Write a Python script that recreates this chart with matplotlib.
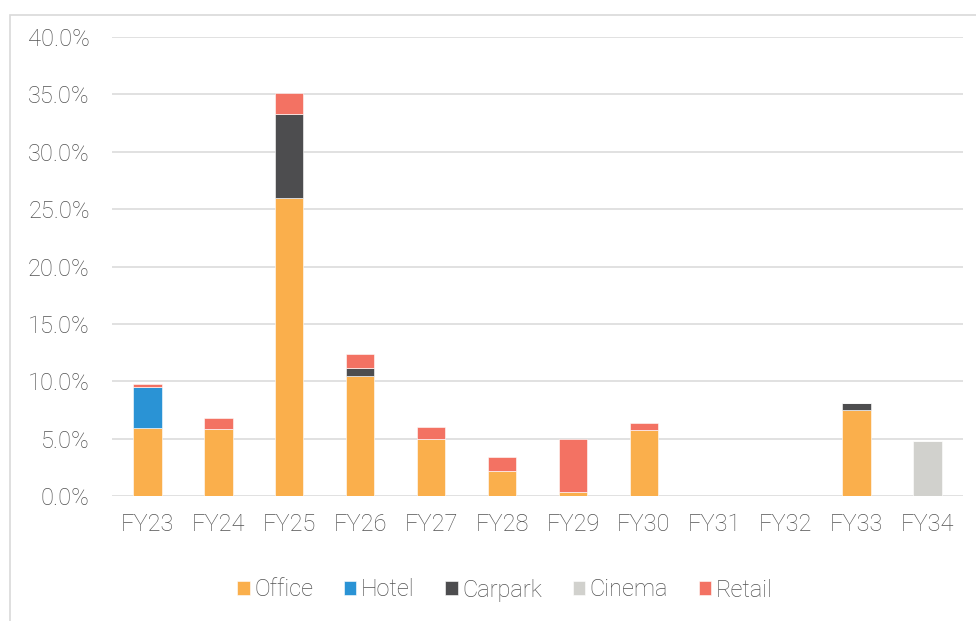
import matplotlib
matplotlib.use("Agg")
import matplotlib.pyplot as plt
from matplotlib.patches import Rectangle
from matplotlib.ticker import FuncFormatter, MultipleLocator
import numpy as np

categories = ["FY23", "FY24", "FY25", "FY26", "FY27", "FY28", "FY29", "FY30", "FY31", "FY32", "FY33", "FY34"]
office  = [5.9, 5.8, 26.0, 10.5, 5.0, 2.2, 0.35, 5.75, 0.0, 0.0, 7.5, 0.0]
hotel   = [3.6, 0.0, 0.0, 0.0, 0.0, 0.0, 0.0, 0.0, 0.0, 0.0, 0.0, 0.0]
carpark = [0.0, 0.0, 7.3, 0.65, 0.0, 0.0, 0.0, 0.0, 0.0, 0.0, 0.6, 0.0]
cinema  = [0.0, 0.0, 0.0, 0.0, 0.0, 0.0, 0.0, 0.0, 0.0, 0.0, 0.0, 4.8]
retail  = [0.3, 1.0, 1.8, 1.2, 1.0, 1.2, 4.65, 0.65, 0.0, 0.0, 0.0, 0.0]

series = [("Office", office, "#FAAF4C"),
          ("Hotel", hotel, "#2A93D5"),
          ("Carpark", carpark, "#4D4D4F"),
          ("Cinema", cinema, "#D1D1CD"),
          ("Retail", retail, "#F37263")]

plt.rcParams['font.family'] = ['Roboto', 'DejaVu Sans']
W, H = 976, 621
fig = plt.figure(figsize=(W/100, H/100), dpi=100)
ax = fig.add_axes([112/W, 1 - 496/H, (963-112)/W, (496-37)/H])

# outer frame
fig.patches.append(Rectangle((10/W, -0.1), 1.2, 1 - 15/H + 0.1, transform=fig.transFigure,
                             fill=False, edgecolor="#D9D9D9", linewidth=1.2))

x = np.arange(len(categories))
bottom = np.zeros(len(categories))
handles = []
for name, vals, col in series:
    v = np.array(vals)
    b = ax.bar(x, v, width=0.4, bottom=bottom, color=col, label=name,
               edgecolor="white", linewidth=0.4, zorder=3)
    bottom += v
    handles.append(b)

TXT = "#525252"
ax.set_xlim(-0.5, len(categories) - 0.5)
ax.set_ylim(0, 40)
ax.yaxis.set_major_locator(MultipleLocator(5))
ax.yaxis.set_major_formatter(FuncFormatter(lambda v, p: f"{v:.1f}%"))
ax.set_xticks(x)
ax.set_xticklabels(categories)
ax.grid(axis="y", color="#D9D9D9", linewidth=1.1, zorder=0)
for s in ax.spines.values():
    s.set_visible(False)
ax.tick_params(axis="both", length=0, labelsize=17, labelcolor=TXT)
ax.tick_params(axis="y", pad=16)
ax.tick_params(axis="x", pad=12)
for lab in ax.get_xticklabels() + ax.get_yticklabels():
    lab.set_fontweight("light")

leg = fig.legend(handles=handles, loc="center", bbox_to_anchor=(505/W, 1 - 590/H),
                 ncol=5, frameon=False, handlelength=0.52, handleheight=0.52,
                 handletextpad=0.2, columnspacing=1.3,
                 prop={"size": 17, "weight": "light"})
for t in leg.get_texts():
    t.set_color(TXT)

fig.savefig("out.png", dpi=100)
